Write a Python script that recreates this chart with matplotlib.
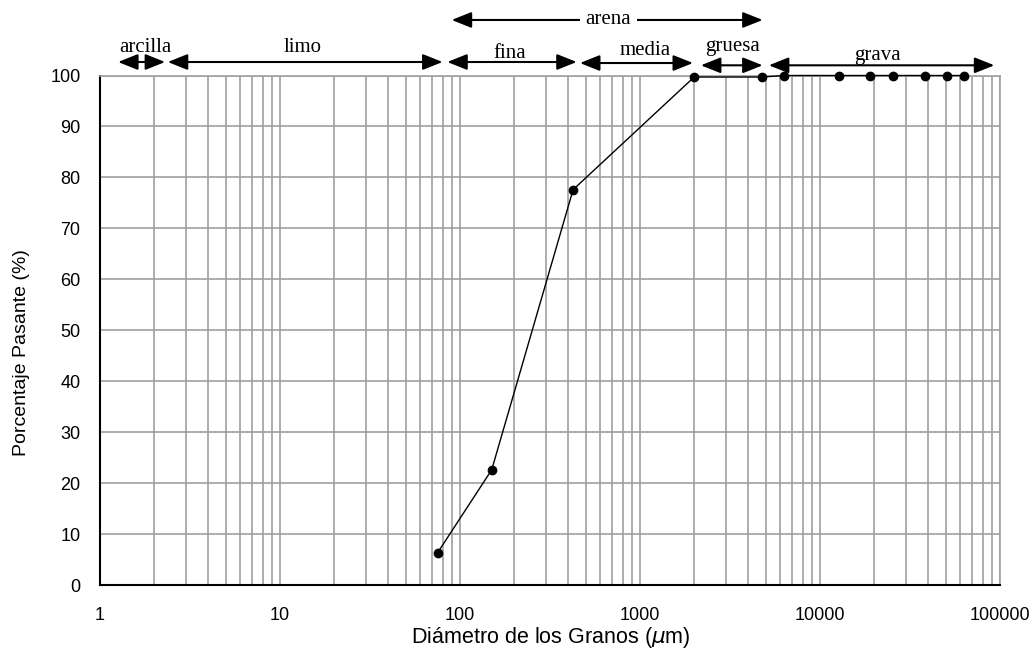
import matplotlib
matplotlib.use("Agg")
import matplotlib.pyplot as plt
from matplotlib.ticker import LogLocator, FixedLocator, NullFormatter

# ---------------- data ----------------
diametro_um = [75, 150, 425, 2000, 4750, 6350, 12700, 19050, 25400, 38100, 50800, 63500]
pasante_pct = [6.3, 22.6, 77.6, 99.7, 99.7, 100, 100, 100, 100, 100, 100, 100]

x_ticks = [1, 10, 100, 1000, 10000, 100000]
x_ticklabels = ["1", "10", "100", "1000", "10000", "100000"]
y_ticks = [0, 10, 20, 30, 40, 50, 60, 70, 80, 90, 100]

# soil size classes (arrow extents, in µm)
zone_names = ["arcilla", "limo", "fina", "media", "gruesa", "grava"]
zone_start = [1.26, 2.38, 85, 464, 2180, 5200]
zone_end = [2.30, 80, 445, 1970, 4800, 93000]
zone_row = [102.65, 102.65, 102.65, 102.45, 102.0, 102.0]
zone_label_x = [1.78, 13.4, 190, 1066, 3280, 20800]
zone_label_y = [104.6, 104.6, 103.4, 104.0, 104.8, 103.0]

arena_start, arena_end = 89.9, 4800
arena_row = 110.9
arena_label_x = 667

# ---------------- figure ----------------
W, H = 1033, 649
fig = plt.figure(figsize=(W / 100, H / 100), dpi=100)
ax = fig.add_axes([100 / W, 1 - 585 / H, 900 / W, 509.5 / H])

ax.set_xscale("log")
ax.set_xlim(1, 100000)
ax.set_ylim(0, 100)

grid_col = "#a0a0a0"
ax.xaxis.set_major_locator(FixedLocator(x_ticks))
ax.xaxis.set_minor_locator(LogLocator(base=10, subs=range(2, 10), numticks=20))
ax.xaxis.set_minor_formatter(NullFormatter())
ax.set_xticklabels(x_ticklabels)
ax.set_yticks(y_ticks)
ax.grid(True, which="both", axis="x", color=grid_col, linewidth=1.2)
ax.grid(True, which="major", axis="y", color=grid_col, linewidth=1.2)
ax.set_axisbelow(True)

for s in ["top", "right"]:
    ax.spines[s].set_color(grid_col)
    ax.spines[s].set_linewidth(1.2)
for s in ["left", "bottom"]:
    ax.spines[s].set_color("black")
    ax.spines[s].set_linewidth(1.5)

ax.tick_params(axis="both", which="both", length=0)
ax.tick_params(axis="x", pad=16)
ax.tick_params(axis="y", pad=14)
for lab in ax.get_xticklabels() + ax.get_yticklabels():
    lab.set_fontfamily("Liberation Sans")
    lab.set_fontsize(13)

ax.plot(diametro_um, pasante_pct, color="black", linewidth=1.0,
        marker="o", markersize=6, markerfacecolor="black",
        markeredgecolor="black", clip_on=False, zorder=5)

# ---------------- arrows ----------------
astyle = "<|-|>,head_length=0.6,head_width=0.24"
for name, x0, x1, yr, lx, ly in zip(zone_names, zone_start, zone_end,
                                     zone_row, zone_label_x, zone_label_y):
    ax.annotate("", xy=(x1, yr), xytext=(x0, yr), xycoords="data",
                annotation_clip=False,
                arrowprops=dict(arrowstyle=astyle, color="black", lw=1.5,
                                shrinkA=0, shrinkB=0, mutation_scale=20))
    ax.text(lx, ly, name, ha="center", va="baseline",
            family="Liberation Serif", fontsize=15, clip_on=False)

ax.annotate("", xy=(arena_end, arena_row), xytext=(arena_start, arena_row),
            xycoords="data", annotation_clip=False,
            arrowprops=dict(arrowstyle=astyle, color="black", lw=1.5,
                            shrinkA=0, shrinkB=0, mutation_scale=20))
ax.text(arena_label_x, arena_row, "arena", ha="center", va="center",
        family="Liberation Serif", fontsize=15, clip_on=False,
        bbox=dict(facecolor="white", edgecolor="none", pad=4), zorder=6)

# ---------------- axis labels ----------------
fig.text(551 / W, 1 - 637 / H, r"Diámetro de los Granos ($\mu$m)",
         ha="center", va="center", family="Liberation Sans", fontsize=15.5)
fig.text(22 / W, 1 - 353 / H, "Porcentaje Pasante (%)", rotation=90,
         ha="center", va="center", family="Liberation Sans", fontsize=14)

fig.savefig("out.png", dpi=100)
